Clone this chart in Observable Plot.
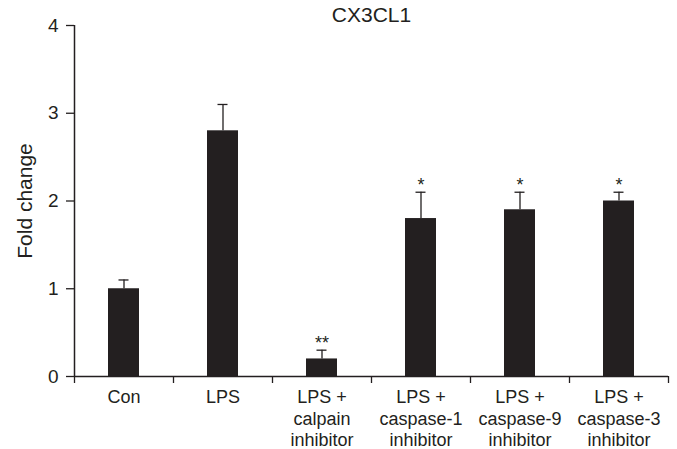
<!DOCTYPE html>
<html>
<head>
<meta charset="utf-8">
<script src="https://cdn.jsdelivr.net/npm/d3@7"></script>
<script src="https://cdn.jsdelivr.net/npm/@observablehq/plot@0.6"></script>
<style>
  html, body { margin: 0; padding: 0; background: #fff; }
  svg { font-family: "Liberation Sans", Arial, sans-serif; }
</style>
</head>
<body>
<div id="chart"></div>
<script>
const title = "CX3CL1";
const yLabel = "Fold change";
const categories = ["Con", "LPS", "LPS +\ncalpain\ninhibitor", "LPS +\ncaspase-1\ninhibitor", "LPS +\ncaspase-9\ninhibitor", "LPS +\ncaspase-3\ninhibitor"];
const values = [1.0, 2.8, 0.2, 1.8, 1.9, 2.0];
const errors = [0.1, 0.3, 0.1, 0.3, 0.2, 0.1];
const significance = ["", "", "**", "*", "*", "*"];
const yTicks = [0, 1, 2, 3, 4];

const data = categories.map((c, i) => ({
  label: c, index: i, value: values[i], err: errors[i], top: values[i] + errors[i], sig: significance[i]
}));

const ink = "#231f20";
const fontFamily = '"Liberation Sans", Arial, sans-serif';

const chart = Plot.plot({
  width: 677,
  height: 449,
  marginLeft: 74,
  marginRight: 9,
  marginTop: 25,
  marginBottom: 73,
  style: { fontFamily, color: ink, background: "#fff" },
  x: { type: "linear", domain: [0, categories.length], axis: null },
  y: { domain: [0, 4], axis: null },
  marks: [
    Plot.rectY(data, { x1: d => d.index, x2: d => d.index + 1, y1: 0, y2: "value", fill: ink, insetLeft: 34, insetRight: 34 }),
    Plot.ruleX(data, { x: d => d.index + 0.5, y1: "value", y2: "top", stroke: ink, strokeWidth: 1.3 }),
    Plot.ruleY(data, { y: "top", x1: d => d.index + 0.5, x2: d => d.index + 0.5, insetLeft: -5, insetRight: -5, stroke: ink, strokeWidth: 1.3 }),
    Plot.text(data, { x: d => d.index + 0.5, y: "top", text: "sig", lineAnchor: "bottom", dy: -1, fontSize: 18, fill: ink }),
    Plot.ruleX([0], { stroke: ink, strokeWidth: 1.5 }),
    Plot.ruleY([0], { stroke: ink, strokeWidth: 1.5 }),
    Plot.axisY({ ticks: yTicks, tickFormat: () => "", tickSize: 8, label: null, stroke: ink, strokeWidth: 1.3 }),
    Plot.text(yTicks, { y: d => d, frameAnchor: "left", text: d => String(d), textAnchor: "end", lineAnchor: "middle", dx: -16, fontSize: 19, fill: ink }),
    Plot.axisX({ ticks: d3.range(categories.length + 1), tickFormat: () => "", tickSize: 7, label: null, stroke: ink, strokeWidth: 1.3 }),
    Plot.text(data, { x: d => d.index + 0.5, y: 0, text: "label", lineAnchor: "top", dy: 12, fontSize: 18, lineHeight: 1.17, fill: ink }),
    Plot.text([title], { frameAnchor: "top", text: d => d, lineAnchor: "middle", dy: -10, fontSize: 21, fill: ink }),
    Plot.text([yLabel], { frameAnchor: "left", text: d => d, textAnchor: "middle", rotate: -90, dx: -49, fontSize: 21, fill: ink })
  ]
});
document.getElementById("chart").appendChild(chart);
</script>
</body>
</html>
